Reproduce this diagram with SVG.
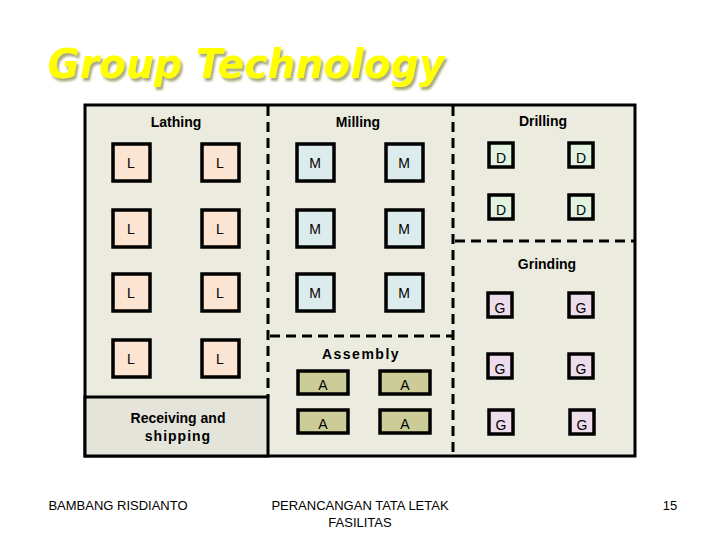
<svg xmlns="http://www.w3.org/2000/svg" width="720" height="540" viewBox="0 0 720 540">
<defs>
<filter id="sh" x="-5%" y="-20%" width="115%" height="150%"><feDropShadow dx="2" dy="3" stdDeviation="0.8" flood-color="#a0a070" flood-opacity="0.9"/></filter>
</defs>
<style>
text{font-family:"Liberation Sans",Arial,sans-serif;fill:#000;text-anchor:middle}
.lbl{font-size:14px;font-weight:bold}
.m{font-size:14px}
.box{stroke:#000;stroke-width:3.5}
.L{fill:#fce4d2}.M{fill:#dcecec}.D{fill:#e2f2e0}.G{fill:#ecdcec}.A{fill:#cccc99}
.dash{stroke:#000;stroke-width:3;stroke-dasharray:10,6;fill:none}
.foot{font-size:13px}
</style>
<rect width="720" height="540" fill="#fff"/>
<g id="title">
<text x="246" y="78" font-size="40" font-weight="bold" font-style="italic" textLength="397" lengthAdjust="spacingAndGlyphs" filter="url(#sh)" style="fill:#ffff00;font-family:'DejaVu Sans',sans-serif">Group Technology</text>
</g>
<g id="floor">
<rect x="85" y="105" width="550" height="351" fill="#ecebdf" stroke="#000" stroke-width="3"/>
</g>
<g id="receiving">
<rect x="85" y="397" width="183" height="59" fill="#e4e4da" stroke="#000" stroke-width="3"/>
<text class="lbl" x="178" y="423">Receiving and</text>
<text class="lbl" x="178" y="441" style="letter-spacing:1px">shipping</text>
</g>
<g id="connectors">
<line class="dash" x1="268" y1="106" x2="268" y2="397"/>
<line class="dash" x1="453" y1="106" x2="453" y2="455"/>
<line class="dash" x1="455" y1="241" x2="634" y2="241"/>
<line class="dash" x1="270" y1="336" x2="452" y2="336"/>
</g>
<g id="labels">
<text class="lbl" x="176" y="127">Lathing</text>
<text class="lbl" x="358" y="127">Milling</text>
<text class="lbl" x="543" y="126">Drilling</text>
<text class="lbl" x="547" y="269">Grinding</text>
<text class="lbl" x="361" y="359" style="letter-spacing:1.5px">Assembly</text>
</g>
<g id="lathing">
<rect class="box L" x="113" y="144" width="37" height="37"/><text class="m" x="131" y="168">L</text>
<rect class="box L" x="202" y="144" width="37" height="37"/><text class="m" x="220" y="168">L</text>
<rect class="box L" x="113" y="210" width="37" height="37"/><text class="m" x="131" y="234">L</text>
<rect class="box L" x="202" y="210" width="37" height="37"/><text class="m" x="220" y="234">L</text>
<rect class="box L" x="113" y="274" width="37" height="37"/><text class="m" x="131" y="298">L</text>
<rect class="box L" x="202" y="274" width="37" height="37"/><text class="m" x="220" y="298">L</text>
<rect class="box L" x="113" y="340" width="37" height="37"/><text class="m" x="131" y="364">L</text>
<rect class="box L" x="202" y="340" width="37" height="37"/><text class="m" x="220" y="364">L</text>
</g>
<g id="milling">
<rect class="box M" x="297" y="144" width="37" height="37"/><text class="m" x="315" y="168">M</text>
<rect class="box M" x="386" y="144" width="37" height="37"/><text class="m" x="404" y="168">M</text>
<rect class="box M" x="297" y="210" width="37" height="37"/><text class="m" x="315" y="234">M</text>
<rect class="box M" x="386" y="210" width="37" height="37"/><text class="m" x="404" y="234">M</text>
<rect class="box M" x="297" y="274" width="37" height="37"/><text class="m" x="315" y="298">M</text>
<rect class="box M" x="386" y="274" width="37" height="37"/><text class="m" x="404" y="298">M</text>
</g>
<g id="drilling">
<rect class="box D" x="489" y="143" width="24" height="24"/><text class="m" x="501" y="163">D</text>
<rect class="box D" x="569" y="143" width="24" height="24"/><text class="m" x="581" y="163">D</text>
<rect class="box D" x="489" y="195" width="24" height="24"/><text class="m" x="501" y="215">D</text>
<rect class="box D" x="569" y="195" width="24" height="24"/><text class="m" x="581" y="215">D</text>
</g>
<g id="grinding">
<rect class="box G" x="488" y="293" width="24" height="24"/><text class="m" x="500" y="313">G</text>
<rect class="box G" x="569" y="293" width="24" height="24"/><text class="m" x="581" y="313">G</text>
<rect class="box G" x="488" y="354" width="24" height="24"/><text class="m" x="500" y="374">G</text>
<rect class="box G" x="569" y="354" width="24" height="24"/><text class="m" x="581" y="374">G</text>
<rect class="box G" x="489" y="410" width="24" height="24"/><text class="m" x="501" y="430">G</text>
<rect class="box G" x="570" y="410" width="24" height="24"/><text class="m" x="582" y="430">G</text>
</g>
<g id="assembly">
<rect class="box A" x="298" y="371" width="50" height="23"/><text class="m" x="323" y="390">A</text>
<rect class="box A" x="380" y="371" width="50" height="23"/><text class="m" x="405" y="390">A</text>
<rect class="box A" x="298" y="410" width="50" height="23"/><text class="m" x="323" y="429">A</text>
<rect class="box A" x="380" y="410" width="50" height="23"/><text class="m" x="405" y="429">A</text>
</g>
<g id="footer">
<text class="foot" x="118" y="510">BAMBANG RISDIANTO</text>
<text class="foot" x="360" y="510">PERANCANGAN TATA LETAK</text>
<text class="foot" x="360" y="527">FASILITAS</text>
<text class="foot" x="670" y="510">15</text>
</g>
</svg>
